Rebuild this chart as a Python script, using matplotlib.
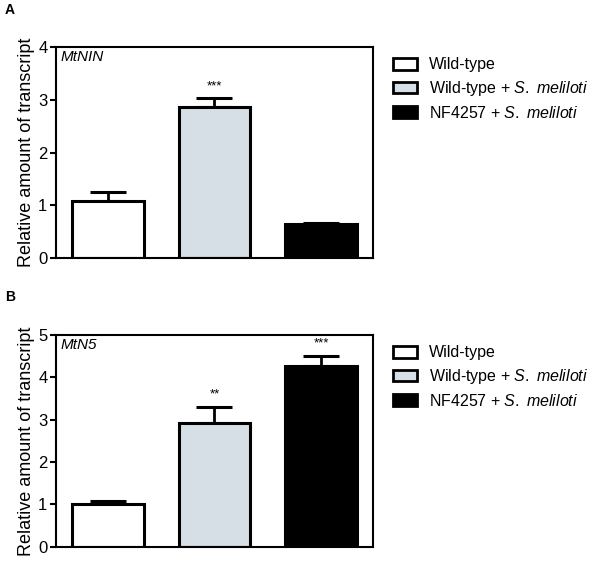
import matplotlib
matplotlib.use("Agg")
import matplotlib.pyplot as plt
from matplotlib.patches import Patch

plt.rcParams['font.family'] = ['Liberation Sans', 'DejaVu Sans']
plt.rcParams['mathtext.fontset'] = 'custom'
plt.rcParams['mathtext.rm'] = 'Liberation Sans'
plt.rcParams['mathtext.it'] = 'Liberation Sans:italic'

groups = ['Wild-type', r'Wild-type + $\mathit{S.\ meliloti}$', r'NF4257 + $\mathit{S.\ meliloti}$']
colors = ['white', '#d5dfe5', 'black']

nin_values = [1.08, 2.87, 0.65]
nin_errors = [0.18, 0.16, 0.02]
nin_stars = ['', '***', '']

n5_values = [1.00, 2.92, 4.26]
n5_errors = [0.07, 0.38, 0.25]
n5_stars = ['', '**', '***']

fig = plt.figure(figsize=(6, 5.61), dpi=100)

def panel(rect, values, errors, stars, ymax, gene, letter, letter_y):
    ax = fig.add_axes(rect)
    x = list(range(len(values)))
    ax.bar(x, values, width=0.667, color=colors, edgecolor='black', linewidth=2.2, zorder=2)
    ax.errorbar(x, values, yerr=[[0]*len(values), errors], fmt='none', ecolor='black',
                elinewidth=2.0, capsize=13, capthick=2.2, zorder=1)
    for xi, v, e, s in zip(x, values, errors, stars):
        if s:
            ax.text(xi, v + e + ymax*0.03, s, ha='center', va='bottom', fontsize=9.5)
    ax.set_xlim(-0.49, 2.49)
    ax.set_ylim(0, ymax)
    ax.set_yticks(range(ymax + 1))
    ax.set_xticks([])
    for sp in ax.spines.values():
        sp.set_linewidth(1.5)
    ax.tick_params(axis='y', labelsize=12, width=1.5, length=4, pad=2)
    ax.set_ylabel('Relative amount of transcript', fontsize=13, labelpad=2)
    ax.text(0.015, 0.985, gene, transform=ax.transAxes, ha='left', va='top',
            fontsize=11, style='italic')
    handles = [Patch(facecolor=c, edgecolor='black', linewidth=2) for c in colors]
    ax.legend(handles, groups, loc='upper left', bbox_to_anchor=(1.016, 1.02), frameon=False,
              fontsize=11.5, handlelength=1.5, handleheight=0.75, handletextpad=0.75,
              labelspacing=0.42)
    fig.text(0.008, letter_y, letter, fontsize=10, fontweight='bold', ha='left', va='center')
    return ax

panel([0.093, 0.540, 0.529, 0.376], nin_values, nin_errors, nin_stars, 4, 'MtNIN', 'A', 1 - 10/561)
panel([0.093, 0.0255, 0.529, 0.377], n5_values, n5_errors, n5_stars, 5, 'MtN5', 'B', 1 - 297/561)

fig.savefig('out.png', dpi=100)
